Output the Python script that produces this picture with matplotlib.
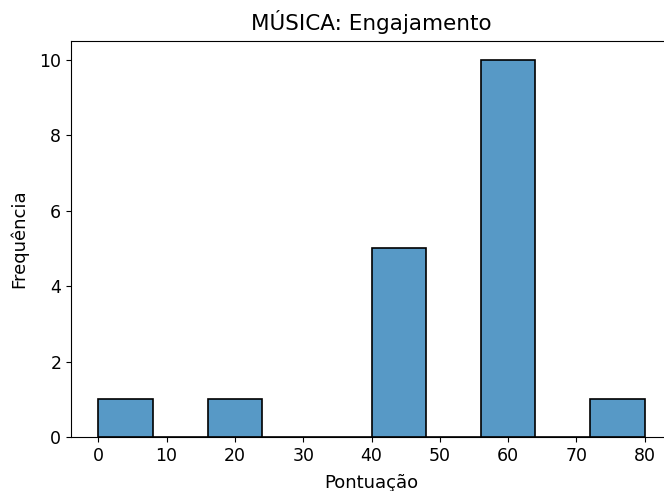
import matplotlib
matplotlib.use("Agg")
import matplotlib.pyplot as plt
import seaborn as sns

# pontuações observadas (valor, frequência)
score_values = [0, 20, 40, 60, 80]
score_counts = [1, 1, 5, 10, 1]
scores = [v for v, c in zip(score_values, score_counts) for _ in range(c)]

fig = plt.figure(figsize=(6.64, 4.91), dpi=100)
ax = fig.add_axes([71 / 664, (491 - 437) / 491, (672 - 71) / 664, (437 - 41) / 491])

sns.histplot(scores, bins=10, binrange=(0, 80), ax=ax, edgecolor="black", linewidth=1.2)
ax.set_xlim(-4, 84)
ax.set_ylim(0, 10.5)
ax.set_title("MÚSICA: Engajamento", fontsize=15.5, pad=8)
ax.set_xlabel("Pontuação", fontsize=13, labelpad=7)
ax.set_ylabel("Frequência", fontsize=13, labelpad=8)
ax.tick_params(labelsize=12.5)

fig.savefig("out.png", dpi=100)
